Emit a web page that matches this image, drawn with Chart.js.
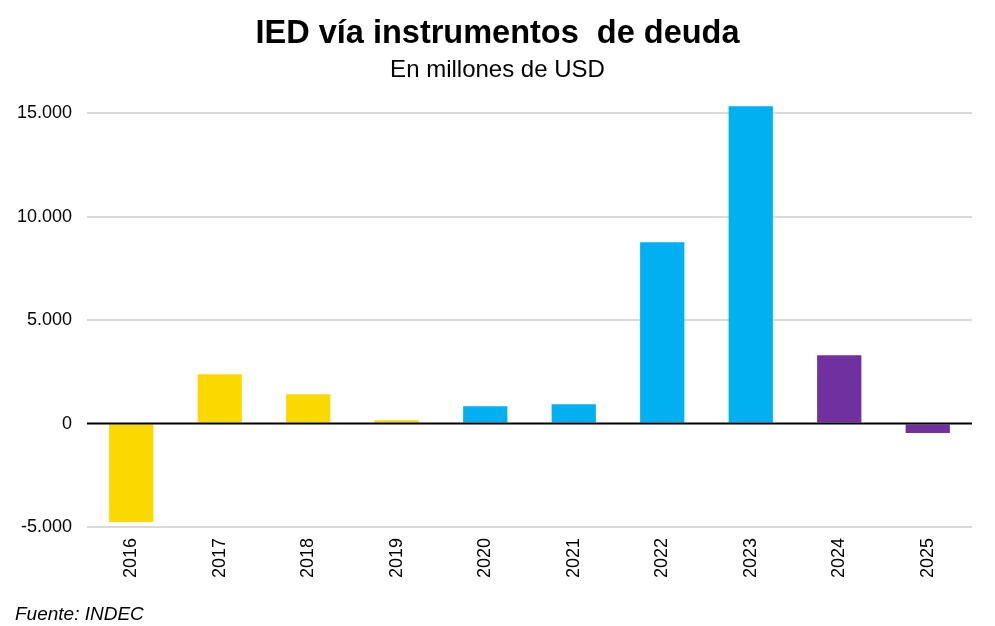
<!DOCTYPE html>
<html>
<head>
<meta charset="utf-8">
<script src="https://cdn.jsdelivr.net/npm/chart.js@4.4.1/dist/chart.umd.min.js"></script>
<style>
  html, body { margin: 0; padding: 0; background: #fff; }
  #wrap { position: relative; width: 995px; height: 626px; }
  #source { position: absolute; left: 15px; top: 604px; font: italic 19px/19px "Liberation Sans", Arial, sans-serif; color: #000; white-space: nowrap; }
</style>
</head>
<body>
<div id="wrap">
  <canvas id="c" width="995" height="626"></canvas>
  <div id="source">Fuente: INDEC</div>
</div>
<script>
// ---- data ----
const years = ['2016', '2017', '2018', '2019', '2020', '2021', '2022', '2023', '2024', '2025'];
const iedDeuda = [-4760, 2385, 1418, 160, 837, 934, 8775, 15355, 3306, -455];
const yTickValues = [-5000, 0, 5000, 10000, 15000];

// ---- styles ----
const YELLOW = '#FAD800', BLUE = '#00B0F0', PURPLE = '#7030A0';
const barColors = [YELLOW, YELLOW, YELLOW, YELLOW, BLUE, BLUE, BLUE, BLUE, PURPLE, PURPLE];
const FONT = '"Liberation Sans", Arial, sans-serif';

function fmt(v) {
  const s = Math.abs(v).toString().replace(/\B(?=(\d{3})+(?!\d))/g, '.');
  return (v < 0 ? '-' : '') + s;
}

const zeroLine = {
  id: 'zeroLine',
  afterDatasetsDraw(chart) {
    const y = chart.scales.y.getPixelForValue(0);
    const a = chart.chartArea;
    const ctx = chart.ctx;
    ctx.save();
    ctx.strokeStyle = '#000';
    ctx.lineWidth = 2;
    ctx.beginPath();
    ctx.moveTo(a.left, y);
    ctx.lineTo(a.right, y);
    ctx.stroke();
    ctx.restore();
  }
};

new Chart(document.getElementById('c'), {
  type: 'bar',
  data: {
    labels: years,
    datasets: [{
      data: iedDeuda,
      backgroundColor: barColors,
      borderWidth: 0,
      barPercentage: 0.5,
      categoryPercentage: 1.0,
      yAxisID: 'y'
    }]
  },
  options: {
    responsive: false,
    devicePixelRatio: 1,
    animation: false,
    layout: { padding: { top: 15, left: 0, right: 0, bottom: 39 } },
    plugins: {
      legend: { display: false },
      tooltip: { enabled: false },
      title: {
        display: true,
        text: 'IED vía instrumentos  de deuda',
        color: '#000',
        font: { family: FONT, size: 32.5, weight: 'bold', lineHeight: 1.2 },
        padding: { top: 0, bottom: 2 }
      },
      subtitle: {
        display: true,
        text: 'En millones de USD',
        color: '#000',
        font: { family: FONT, size: 24, weight: 'normal', lineHeight: 1.2 },
        padding: { top: 0, bottom: 8 }
      }
    },
    scales: {
      x: {
        grid: { display: false, drawTicks: false },
        border: { display: false },
        ticks: {
          color: '#000',
          font: { family: FONT, size: 18 },
          minRotation: 90,
          maxRotation: 90,
          padding: 11,
          autoSkip: false
        },
        afterFit(scale) { scale.height = 60; }
      },
      y: {
        min: -5000,
        max: 16000,
        grid: {
          drawTicks: false,
          color: ctx => (ctx.tick && ctx.tick.value === 0) ? 'rgba(0,0,0,0)' : '#D9D9D9',
          lineWidth: 2
        },
        border: { display: false },
        ticks: {
          stepSize: 5000,
          color: '#000',
          font: { family: FONT, size: 18 },
          padding: 15,
          callback: v => fmt(v)
        },
        afterBuildTicks(scale) {
          scale.ticks = yTickValues.map(v => ({ value: v }));
        },
        afterFit(scale) { scale.width = 87; }
      },
      yRight: {
        position: 'right',
        display: true,
        grid: { display: false, drawTicks: false },
        border: { display: false },
        ticks: { display: false },
        afterFit(scale) { scale.width = 23; }
      }
    }
  },
  plugins: [zeroLine]
});
</script>
</body>
</html>
